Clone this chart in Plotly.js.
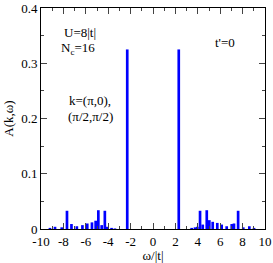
<!DOCTYPE html>
<html><head><meta charset="utf-8">
<script src="https://cdn.plot.ly/plotly-3.0.1.min.js"></script>
<style>html,body{margin:0;padding:0;background:#fff}</style>
</head><body><div id="c" style="width:273px;height:263px"></div>
<script>
const omega = [-9.2,-8.75,-8.15,-7.68,-7.28,-6.8,-6.3,-5.87,-5.45,-5.12,-4.88,-4.58,-4.3,-4.08,-3.7,-3.4,-2.3,
               2.3,3.45,3.75,3.96,4.2,4.44,4.8,5.03,5.33,5.74,6.13,6.58,7.03,7.23,7.6,8.06,8.6,9.02];
const weight = [0.002,0.004,0.003,0.033,0.009,0.005,0.007,0.010,0.012,0.015,0.034,0.007,0.033,0.004,0.002,0.001,0.325,
                0.325,0.002,0.003,0.004,0.033,0.008,0.034,0.016,0.013,0.011,0.008,0.005,0.009,0.010,0.033,0.003,0.005,0.002];
const xTicks = [-10,-8,-6,-4,-2,0,2,4,6,8,10];
const yTicks = [0,0.1,0.2,0.3,0.4];
const serif = "Liberation Serif";
Plotly.newPlot('c',[{type:'bar',x:omega,y:weight,width:0.24,marker:{color:'#0000ff',line:{width:0}},hoverinfo:'none'}],{
  width:273,height:263,margin:{l:41,r:8,t:8,b:34},
  paper_bgcolor:'#fff',plot_bgcolor:'#fff',showlegend:false,
  font:{family:serif,size:13,color:'#000'},
  xaxis:{range:[-10,10],tickvals:xTicks,ticktext:xTicks.map(String),ticks:'inside',ticklen:6,tickwidth:1,
    minor:{dtick:1,ticks:'inside',ticklen:3,tickwidth:1,showgrid:false},
    showline:true,linecolor:'#000',linewidth:1,mirror:'allticks',showgrid:false,zeroline:false,
    title:{text:'ω/|t|',font:{family:serif,size:13},standoff:2}},
  yaxis:{range:[0,0.4],tickvals:yTicks,ticktext:['0','0.1','0.2','0.3','0.4'],ticks:'inside',ticklen:6,tickwidth:1,
    minor:{dtick:0.05,ticks:'inside',ticklen:3,tickwidth:1,showgrid:false},
    showline:true,linecolor:'#000',linewidth:1,mirror:'allticks',showgrid:false,zeroline:false,
    title:{text:'A(k,ω)',font:{family:serif,size:13},standoff:4}},
  annotations:[
    {text:'U=8|t|',x:80,y:32},
    {text:'N<sub>c</sub>=16',x:78,y:48},
    {text:"t'=0",x:225,y:42},
    {text:'k=(π,0),',x:90,y:100},
    {text:'(π/2,π/2)',x:90,y:116}
  ].map(a=>({text:a.text,showarrow:false,xref:'paper',yref:'paper',
     x:(a.x-41)/224,y:1-(a.y-8)/221,xanchor:'center',yanchor:'middle',font:{family:serif,size:13,color:'#000'}}))
},{staticPlot:true});
</script></body></html>
